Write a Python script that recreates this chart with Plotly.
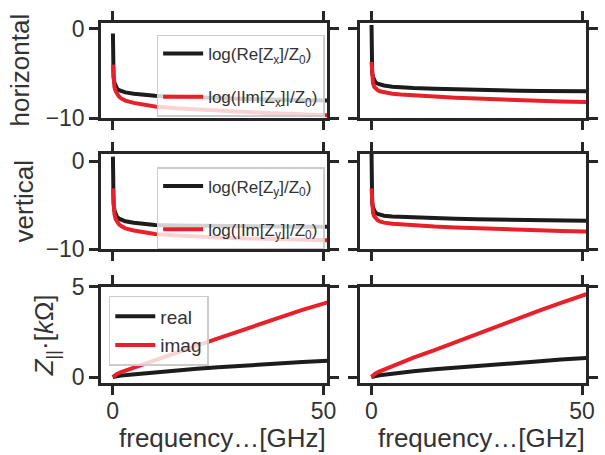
import plotly.graph_objects as go

# ---------------- data ----------------
freq_log = [0.05, 0.1, 0.2, 0.4, 0.7, 1, 1.5, 2, 3, 5, 7, 10, 15, 20, 25, 30, 35, 40, 45, 51]

h_left_re = [-0.5, -4.6, -5.4, -6.0, -6.45, -6.7, -6.88, -7.0, -7.12, -7.27, -7.37, -7.5, -7.6, -7.7, -7.78, -7.84, -7.9, -7.95, -8.0, -8.03]
h_left_im = [-4.0, -5.0, -5.8, -6.5, -7.0, -7.3, -7.6, -7.8, -8.05, -8.3, -8.5, -8.7, -8.9, -9.05, -9.2, -9.3, -9.4, -9.5, -9.6, -9.7]
h_right_re = [0.45, -4.2, -4.9, -5.4, -5.8, -6.0, -6.15, -6.25, -6.35, -6.48, -6.55, -6.63, -6.72, -6.8, -6.85, -6.9, -6.93, -6.96, -6.98, -7.0]
h_right_im = [-3.7, -4.7, -5.5, -6.1, -6.5, -6.7, -6.88, -7.0, -7.12, -7.27, -7.35, -7.45, -7.6, -7.72, -7.82, -7.92, -8.0, -8.07, -8.14, -8.2]

v_left_re = [0.5, -3.8, -4.8, -5.6, -6.1, -6.35, -6.55, -6.68, -6.85, -7.02, -7.13, -7.27, -7.33, -7.37, -7.4, -7.42, -7.44, -7.45, -7.46, -7.47]
v_left_im = [-3.1, -4.3, -5.2, -6.0, -6.6, -6.9, -7.2, -7.4, -7.65, -7.9, -8.08, -8.3, -8.45, -8.6, -8.7, -8.78, -8.85, -8.9, -8.95, -9.0]
v_right_re = [0.9, -3.8, -4.7, -5.3, -5.7, -5.88, -6.02, -6.12, -6.22, -6.3, -6.35, -6.42, -6.5, -6.57, -6.62, -6.67, -6.71, -6.75, -6.78, -6.8]
v_right_im = [-3.1, -4.3, -5.2, -5.9, -6.3, -6.52, -6.72, -6.85, -7.0, -7.12, -7.2, -7.3, -7.45, -7.55, -7.65, -7.75, -7.82, -7.9, -7.95, -8.0]

freq_lin = [0, 0.5, 1, 2, 4, 7, 10, 15, 20, 25, 30, 35, 40, 45, 51]
l_left_re = [0, 0.03, 0.05, 0.08, 0.13, 0.2, 0.27, 0.37, 0.46, 0.54, 0.62, 0.69, 0.76, 0.83, 0.9]
l_left_im = [0, 0.1, 0.17, 0.28, 0.45, 0.7, 0.95, 1.35, 1.75, 2.15, 2.55, 2.95, 3.35, 3.73, 4.15]
l_right_re = [0, 0.04, 0.06, 0.1, 0.16, 0.24, 0.32, 0.43, 0.53, 0.62, 0.71, 0.8, 0.88, 0.97, 1.06]
l_right_im = [0, 0.12, 0.2, 0.32, 0.52, 0.8, 1.08, 1.5, 1.95, 2.4, 2.85, 3.27, 3.7, 4.12, 4.6]

x_ticks = [0, 50]
y_ticks_log = [-10, 0]
y_ticks_lin = [0, 5]

names_h = ["log(Re[Z<sub>x</sub>]/Z<sub>0</sub>)", "log(|Im[Z<sub>x</sub>]|/Z<sub>0</sub>)"]
names_v = ["log(Re[Z<sub>y</sub>]/Z<sub>0</sub>)", "log(|Im[Z<sub>y</sub>]|/Z<sub>0</sub>)"]
names_l = ["real", "imag"]
row_titles = ["horizontal", "vertical", "<i>Z</i><sub>||</sub>·[<i>k</i>Ω]"]
x_title = "frequency…[GHz]"

# ---------------- styling ----------------
BLACK = "#1c1c1c"
RED = "#e8202a"
EDGE = "#262626"
TXT = "#333333"
FONT = "Liberation Sans, Arial, sans-serif"

fig = go.Figure()

panels = [
    (1, freq_log, h_left_re, h_left_im, names_h, "legend"),
    (2, freq_log, h_right_re, h_right_im, None, None),
    (3, freq_log, v_left_re, v_left_im, names_v, "legend2"),
    (4, freq_log, v_right_re, v_right_im, None, None),
    (5, freq_lin, l_left_re, l_left_im, names_l, "legend3"),
    (6, freq_lin, l_right_re, l_right_im, None, None),
]

for idx, fx, re_v, im_v, names, leg in panels:
    ax = "" if idx == 1 else str(idx)
    for k, (vals, col) in enumerate([(re_v, BLACK), (im_v, RED)]):
        kw = dict(x=fx, y=vals, mode="lines", line=dict(color=col, width=4),
                  xaxis="x" + ax, yaxis="y" + ax, hoverinfo="skip")
        if names is not None:
            kw.update(name=names[k], showlegend=True, legend=leg, legendgroup=f"{leg}_{k}")
        else:
            kw.update(showlegend=False)
        fig.add_trace(go.Scatter(**kw))

col_domains = [[0.0, 0.4668], [0.5332, 1.0]]
row_domains = [[0.7361, 1.0], [0.3722, 0.6361], [0.0, 0.2667]]
y_ranges = [[-10, 0.67], [-10, 0.8], [-0.33, 5]]
y_tickvals = [y_ticks_log, y_ticks_log, y_ticks_lin]

layout = dict(
    width=605, height=455,
    margin=dict(l=101, r=7, t=23, b=72),
    paper_bgcolor="white", plot_bgcolor="white",
    font=dict(family=FONT, color=TXT),
)

for i in range(6):
    r, c = divmod(i, 2)
    ax = "" if i == 0 else str(i + 1)
    common = dict(showline=True, linecolor=EDGE, linewidth=2.5, mirror="ticks",
                  ticks="outside", ticklen=9, tickwidth=2.5, tickcolor=EDGE,
                  showgrid=False, zeroline=False,
                  tickfont=dict(size=23, color=TXT, family=FONT))
    layout["xaxis" + ax] = dict(domain=col_domains[c], anchor="y" + ax,
                                range=[-2.78, 50.93], tickvals=x_ticks,
                                showticklabels=(r == 2), ticklabelstandoff=-3, **common)
    layout["yaxis" + ax] = dict(domain=row_domains[r], anchor="x" + ax,
                                range=y_ranges[r], tickvals=y_tickvals[r],
                                showticklabels=(c == 0), **common)

leg_common = dict(bgcolor="rgba(255,255,255,0.8)", bordercolor="#cccccc", borderwidth=1.5,
                  font=dict(size=17, color=TXT, family=FONT), xanchor="left", yanchor="top",
                  traceorder="grouped", itemwidth=40)
layout["legend"] = dict(x=0.1147, y=0.968, tracegroupgap=18, **leg_common)
layout["legend2"] = dict(x=0.1147, y=0.600, tracegroupgap=18, **leg_common)
leg3 = dict(leg_common)
leg3["font"] = dict(size=19, color=TXT, family=FONT)
layout["legend3"] = dict(x=0.0161, y=0.2417, tracegroupgap=1, **leg3)

annotations = []
title_x_px = [17, 22, 45]
for r in range(3):
    annotations.append(dict(text=row_titles[r], xref="paper", yref="paper",
                            x=(title_x_px[r] - 101) / 497,
                            y=sum(row_domains[r]) / 2,
                            xanchor="center", yanchor="middle", textangle=-90,
                            showarrow=False, font=dict(size=26, color=TXT, family=FONT)))
for c in range(2):
    annotations.append(dict(text=x_title, xref="paper", yref="paper",
                            x=sum(col_domains[c]) / 2 + 9 / 497, y=-0.2,
                            xanchor="center", yanchor="bottom",
                            showarrow=False, font=dict(size=26, color=TXT, family=FONT)))
layout["annotations"] = annotations

fig.update_layout(**layout)
fig.write_html("out.html")
